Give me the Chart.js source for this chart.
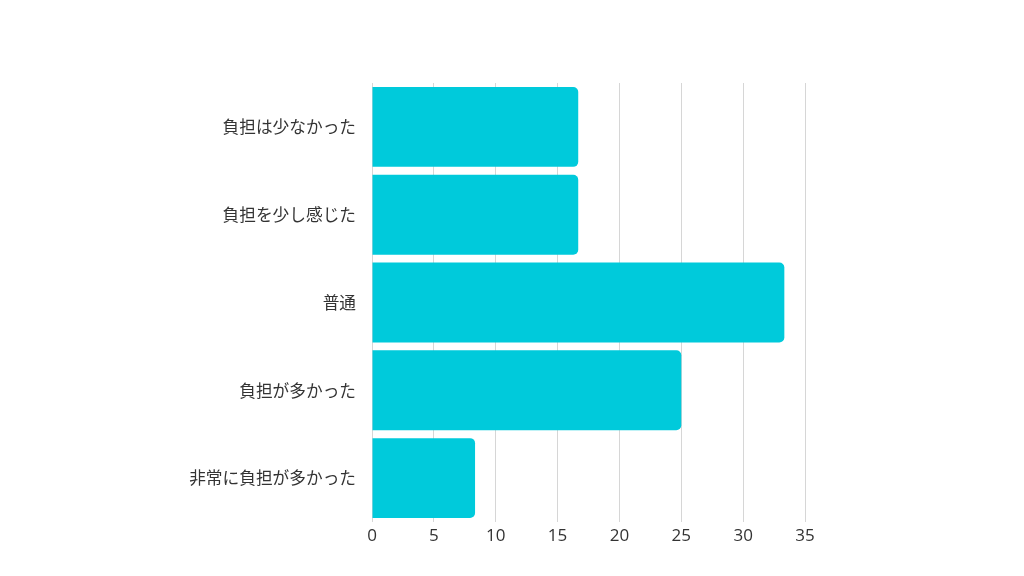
<!DOCTYPE html>
<html><head><meta charset="utf-8">
<script src="https://cdn.jsdelivr.net/npm/chart.js@4/dist/chart.umd.min.js"></script>
<style>html,body{margin:0;padding:0;background:#fff}#wrap{width:1024px;height:576px}</style>
</head><body><div id="wrap"><canvas id="c" width="1024" height="576"></canvas></div>
<script>
const categories = ["負担は少なかった","負担を少し感じた","普通","負担が多かった","非常に負担が多かった"];
const values = [16.67, 16.67, 33.33, 25, 8.33];
const xTicks = [0,5,10,15,20,25,30,35];

new Chart(document.getElementById('c'), {
  type: 'bar',
  data: { labels: categories, datasets: [{ data: values, backgroundColor: '#00CADB', borderRadius: 5, borderSkipped: 'start', barPercentage: 0.91, categoryPercentage: 1 }] },
  options: {
    indexAxis: 'y', responsive: false, animation: false,
    layout: { padding: { top: 83, right: 219, left: 0, bottom: 0 } },
    plugins: { legend: { display: false }, tooltip: { enabled: false } },
    scales: {
      x: { min: 0, max: 35, afterBuildTicks: s => { s.ticks = xTicks.map(v => ({value: v})); },
        afterFit: s => { s.height = 54; },
        grid: { color: '#d6d6d6', drawTicks: false, lineWidth: 1 }, border: { display: false },
        ticks: { padding: 4, color: '#333', font: { family: 'Open Sans', size: 17 } } },
      y: { afterFit: s => { s.width = 372; },
        grid: { display: false }, border: { display: false },
        ticks: { padding: 8, color: '#333', font: { family: '"Noto Sans CJK JP"', size: 16.7 } } }
    }
  }
});
</script></body></html>
